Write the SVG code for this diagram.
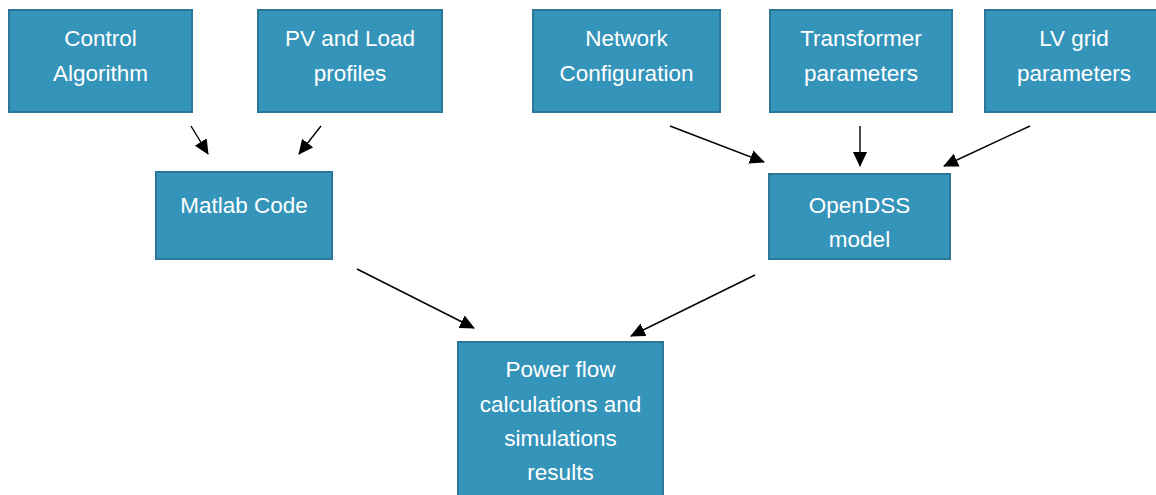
<svg xmlns="http://www.w3.org/2000/svg" width="1156" height="495" viewBox="0 0 1156 495">
<style>
.box{fill:#3594ba;stroke:#2a7797;stroke-width:2}
.t{fill:#ffffff;font-family:"Liberation Sans",Arial,sans-serif;font-size:22.5px;text-anchor:middle}
.c{stroke:#000;stroke-width:1.4;fill:none;marker-end:url(#ah)}
</style>
<defs>
<marker id="ah" markerUnits="userSpaceOnUse" markerWidth="16" markerHeight="14" refX="14" refY="7" orient="auto">
<path d="M0,0 L15,7 L0,14 Z" fill="#000"/>
</marker>
</defs>
<rect width="1156" height="495" fill="#ffffff"/>
<g id="control">
<rect class="box" x="9" y="10" width="183" height="102"/>
<text class="t" x="100.5" y="46">Control</text>
<text class="t" x="100.5" y="81">Algorithm</text>
</g>
<g id="pvload">
<rect class="box" x="258" y="10" width="184" height="102"/>
<text class="t" x="350" y="46">PV and Load</text>
<text class="t" x="350" y="81">profiles</text>
</g>
<g id="network">
<rect class="box" x="533" y="10" width="187" height="102"/>
<text class="t" x="626.5" y="46">Network</text>
<text class="t" x="626.5" y="81">Configuration</text>
</g>
<g id="transformer">
<rect class="box" x="770" y="10" width="182" height="102"/>
<text class="t" x="861" y="46">Transformer</text>
<text class="t" x="861" y="81">parameters</text>
</g>
<g id="lvgrid">
<rect class="box" x="985" y="10" width="184" height="102"/>
<text class="t" x="1074" y="46">LV grid</text>
<text class="t" x="1074" y="81">parameters</text>
</g>
<g id="matlab">
<rect class="box" x="156" y="172" width="176" height="87"/>
<text class="t" x="244" y="213">Matlab Code</text>
</g>
<g id="opendss">
<rect class="box" x="769" y="174" width="181" height="85"/>
<text class="t" x="859.5" y="213">OpenDSS</text>
<text class="t" x="859.5" y="247">model</text>
</g>
<g id="powerflow">
<rect class="box" x="458" y="342" width="205" height="160"/>
<text class="t" x="560.5" y="377">Power flow</text>
<text class="t" x="560.5" y="412">calculations and</text>
<text class="t" x="560.5" y="446">simulations</text>
<text class="t" x="560.5" y="480">results</text>
</g>
<g id="connectors">
<line class="c" x1="191" y1="126" x2="208" y2="154"/>
<line class="c" x1="321" y1="126" x2="299" y2="154"/>
<line class="c" x1="670" y1="126" x2="764" y2="162"/>
<line class="c" x1="860" y1="126" x2="860" y2="166"/>
<line class="c" x1="1030" y1="126" x2="944" y2="166"/>
<line class="c" x1="357" y1="269" x2="474" y2="328"/>
<line class="c" x1="755" y1="275" x2="631" y2="336"/>
</g>
</svg>
